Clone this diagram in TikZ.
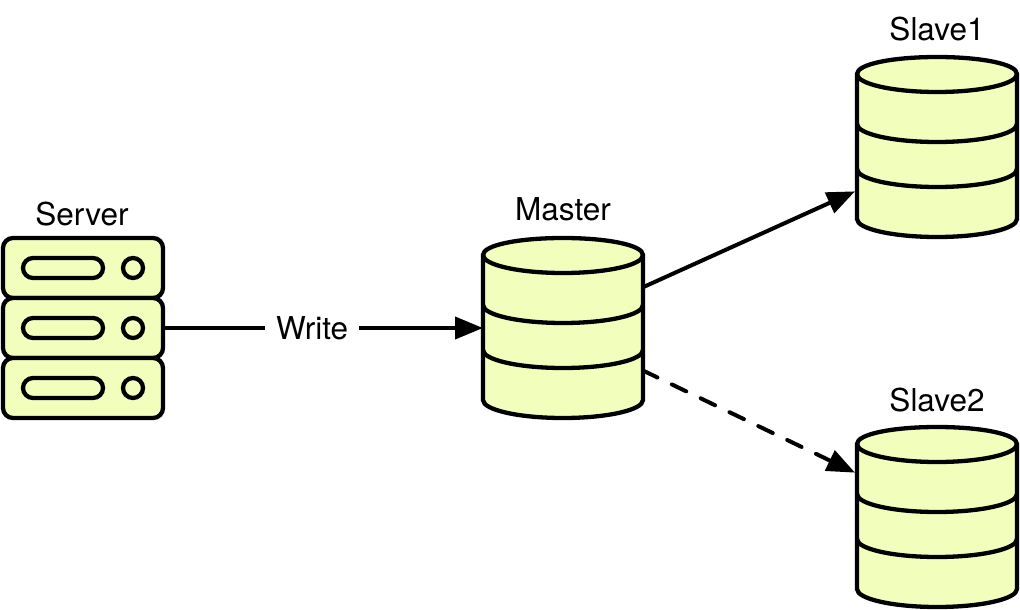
\documentclass[tikz,border=0pt]{standalone}
\usepackage{fontspec}
\setmainfont{TeX Gyre Heros}
\usetikzlibrary{arrows.meta,positioning}
\definecolor{dbfill}{HTML}{F2FFBC}
\tikzset{
  dbbox/.style={minimum width=160pt,minimum height=180pt,inner sep=0pt,outer sep=0pt},
  srvbox/.style={draw,fill=dbfill,rounded corners=10pt,minimum width=160pt,minimum height=60pt,inner sep=0pt,outer sep=0pt},
  caption/.style={font=\fontsize{31.5}{36}\selectfont,inner sep=0pt,anchor=base},
  dbstack/.pic={
    \draw[fill=dbfill] (-80,-73) .. controls (-80,-83) and (-44,-90) .. (0,-90)
        .. controls (44,-90) and (80,-83) .. (80,-73) -- (80,72)
        .. controls (80,82) and (44,90) .. (0,90)
        .. controls (-44,90) and (-80,82) .. (-80,72) -- cycle;
    \draw (-80,-73) .. controls (-80,-63) and (-44,-55) .. (0,-55) .. controls (44,-55) and (80,-63) .. (80,-73);
    \draw (-80,-23) .. controls (-80,-13) and (-44,-5) .. (0,-5) .. controls (44,-5) and (80,-13) .. (80,-23);
    \draw (-80,22) .. controls (-80,32) and (-44,40) .. (0,40) .. controls (44,40) and (80,32) .. (80,22);
  },
  srvslot/.pic={
    \draw[rounded corners=10pt] (-60,-10) rectangle (20,10);
    \draw (50,0) circle (10);
  }
}

\begin{document}
\begin{tikzpicture}[x=1pt,y=-1pt,line width=4.3pt,>={Triangle[length=28pt,width=22pt]}]

    \useasboundingbox (0,0) rectangle (1020,610);

    \node[srvbox] (srv1) at (83,268) {};
    \node[srvbox] (srv2) at (83,328) {};
    \node[srvbox] (srv3) at (83,388) {};
    \pic at (srv1) {srvslot};
    \pic at (srv2) {srvslot};
    \pic at (srv3) {srvslot};

    \node[dbbox] (master) at (563,328) {};
    \node[dbbox] (slave1) at (937,147) {};
    \node[dbbox] (slave2) at (937,517) {};
    \pic at (master) {dbstack};
    \pic at (slave1) {dbstack};
    \pic at (slave2) {dbstack};

    \node[caption] (srvname) at (82,225) {Server};
    \node[caption] (mastername) at (563,220) {Master};
    \node[caption] (slave1name) at (937,41) {Slave1};
    \node[caption] (slave2name) at (937,411) {Slave2};

    \path[->,line width=4pt] (srv2) edge node[pos=.466,fill=white,font=\fontsize{31.5}{36}\selectfont,inner xsep=11pt] (write) {Write} (master.west);
    \path[->,line width=4pt] (master.27) edge ([xshift=-2pt]slave1.-151);
    \path[->,line width=4pt,line cap=round,dash pattern=on 16pt off 16pt] (master.-28) edge ([xshift=-2pt]slave2.151);

\end{tikzpicture}
\end{document}
